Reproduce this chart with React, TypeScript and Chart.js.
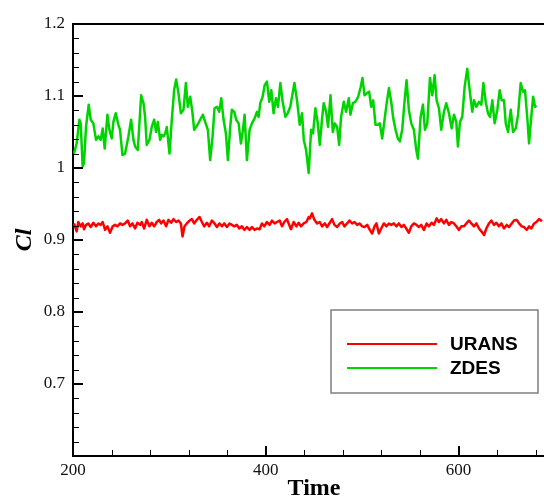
import React, { useEffect, useRef } from "react";
import { Chart, registerables } from "chart.js";

Chart.register(...registerables);

// ---------- data ----------
const ZDES_TIME = [
  201.0, 203.8, 206.6, 208.0, 210.0, 211.4, 213.5, 216.3, 218.4, 221.1, 223.9, 226.3, 228.7, 230.8, 232.9,
  235.7, 237.8, 240.2, 241.9, 244.3, 247.1, 248.8, 251.3, 254.0, 257.5, 260.3, 262.7, 264.4, 267.2, 270.7,
  273.1, 274.8, 276.5, 279.3, 281.7, 284.2, 286.2, 288.0, 290.4, 292.1, 293.9, 295.6, 297.3, 300.1, 302.5,
  304.9, 307.0, 309.4, 311.9, 314.6, 317.1, 319.1, 321.6, 324.0, 325.7, 329.2, 331.9, 334.7, 337.1, 339.9,
  342.3, 344.8, 346.8, 349.3, 351.7, 353.8, 356.2, 358.6, 360.7, 363.1, 364.8, 367.3, 369.3, 371.8, 374.2,
  376.3, 378.0, 380.4, 383.2, 385.6, 388.4, 390.8, 392.5, 394.3, 396.7, 398.8, 401.2, 403.6, 405.7, 408.1,
  410.5, 412.6, 415.1, 417.5, 420.3, 422.7, 425.4, 429.7, 432.4, 435.2, 437.6, 439.4, 441.8, 444.5, 447.0,
  449.0, 451.5, 453.9, 456.0, 458.4, 460.1, 462.6, 464.6, 467.1, 469.5, 471.6, 474.0, 476.1, 478.1, 480.9,
  483.3, 486.1, 487.8, 490.3, 493.0, 495.8, 498.2, 500.3, 502.4, 505.1, 507.2, 509.3, 511.4, 513.8, 516.2,
  518.3, 520.7, 523.2, 525.2, 527.7, 530.1, 532.2, 534.6, 537.0, 539.1, 541.5, 543.9, 546.0, 548.4, 550.9,
  553.6, 556.1, 557.8, 560.6, 563.0, 565.1, 567.5, 570.3, 572.7, 575.1, 577.2, 579.6, 582.0, 584.8, 587.2,
  590.0, 592.8, 595.2, 597.6, 599.3, 601.4, 603.8, 606.3, 609.0, 611.5, 614.2, 616.0, 618.4, 621.2, 623.6,
  625.7, 628.1, 630.5, 632.6, 635.0, 637.4, 640.2, 642.6, 644.7, 647.1, 648.9, 651.3, 654.1, 656.5, 659.3,
  661.7, 664.4, 666.9, 668.9, 671.4, 673.1, 674.8, 677.3, 679.3, 680.7,
];
const ZDES_CL = [
  1.020, 1.034, 1.067, 1.062, 1.002, 1.007, 1.057, 1.088, 1.067, 1.062, 1.039, 1.044, 1.039, 1.055, 1.027,
  1.074, 1.053, 1.041, 1.064, 1.076, 1.060, 1.053, 1.018, 1.020, 1.044, 1.067, 1.039, 1.030, 1.025, 1.101,
  1.090, 1.071, 1.032, 1.039, 1.057, 1.067, 1.050, 1.064, 1.039, 1.046, 1.044, 1.048, 1.057, 1.020, 1.067,
  1.108, 1.123, 1.104, 1.076, 1.081, 1.118, 1.085, 1.099, 1.076, 1.053, 1.060, 1.067, 1.074, 1.064, 1.053,
  1.011, 1.044, 1.083, 1.085, 1.078, 1.097, 1.067, 1.048, 1.011, 1.057, 1.081, 1.078, 1.067, 1.062, 1.034,
  1.053, 1.074, 1.011, 1.053, 1.062, 1.069, 1.078, 1.071, 1.090, 1.099, 1.115, 1.120, 1.092, 1.108, 1.076,
  1.097, 1.085, 1.118, 1.092, 1.071, 1.076, 1.085, 1.118, 1.094, 1.060, 1.076, 1.039, 1.025, 0.993, 1.053,
  1.048, 1.083, 1.062, 1.032, 1.069, 1.090, 1.078, 1.057, 1.101, 1.050, 1.062, 1.057, 1.032, 1.071, 1.092,
  1.078, 1.097, 1.074, 1.090, 1.092, 1.099, 1.111, 1.125, 1.101, 1.104, 1.106, 1.085, 1.094, 1.060, 1.060,
  1.062, 1.041, 1.067, 1.088, 1.111, 1.092, 1.069, 1.053, 1.041, 1.037, 1.053, 1.092, 1.122, 1.081, 1.062,
  1.053, 1.025, 1.013, 1.071, 1.088, 1.053, 1.062, 1.125, 1.101, 1.129, 1.094, 1.083, 1.053, 1.078, 1.090,
  1.076, 1.055, 1.074, 1.064, 1.030, 1.064, 1.071, 1.113, 1.138, 1.108, 1.078, 1.094, 1.085, 1.092, 1.088,
  1.118, 1.092, 1.076, 1.071, 1.094, 1.062, 1.081, 1.108, 1.094, 1.094, 1.062, 1.050, 1.081, 1.050, 1.055,
  1.074, 1.118, 1.106, 1.108, 1.067, 1.034, 1.062, 1.099, 1.085, 1.087,
];

const URANS_TIME = [
  201.0, 203.8, 205.5, 208.0, 210.0, 211.4, 213.5, 215.9, 218.4, 221.1, 223.9, 226.3, 228.7, 230.8, 233.3,
  235.7, 238.4, 241.2, 243.6, 246.1, 248.8, 251.3, 254.0, 256.8, 259.2, 261.6, 264.4, 266.8, 269.6, 271.3,
  273.8, 276.5, 279.3, 281.7, 284.2, 286.9, 289.3, 291.4, 293.9, 296.6, 299.0, 301.8, 304.2, 307.0, 309.4,
  311.9, 313.6, 315.7, 318.1, 320.9, 323.3, 325.7, 328.5, 331.3, 333.7, 336.1, 338.9, 341.3, 344.1, 346.8,
  349.3, 352.0, 354.5, 356.9, 359.7, 362.4, 364.8, 367.3, 370.0, 372.5, 375.2, 377.7, 380.4, 383.2, 385.6,
  388.4, 390.8, 393.6, 396.0, 398.4, 401.2, 404.0, 406.4, 409.2, 411.6, 414.4, 416.8, 419.2, 422.0, 423.7,
  426.1, 428.9, 431.7, 434.1, 436.5, 439.3, 442.1, 444.5, 445.6, 448.0, 450.4, 453.2, 456.0, 458.4, 461.2,
  463.6, 466.4, 468.8, 471.2, 474.0, 476.8, 479.2, 481.6, 484.4, 486.8, 489.6, 492.0, 494.8, 497.2, 500.0,
  502.4, 505.2, 507.9, 510.3, 512.8, 514.8, 517.3, 519.7, 522.5, 525.2, 527.7, 530.1, 532.9, 535.6, 538.0,
  540.8, 543.2, 545.7, 548.4, 550.9, 553.6, 556.4, 558.8, 561.2, 564.0, 566.8, 569.2, 572.0, 574.4, 577.2,
  579.6, 582.0, 584.8, 587.2, 590.0, 592.4, 595.2, 597.6, 600.4, 602.8, 605.6, 608.0, 610.8, 613.2, 616.0,
  618.4, 621.2, 623.6, 626.4, 628.8, 631.5, 634.0, 636.7, 639.2, 641.9, 644.4, 647.1, 649.9, 652.3, 655.1,
  657.5, 660.3, 662.7, 665.5, 667.9, 670.7, 673.1, 675.5, 678.3, 680.7, 683.5, 686.5,
];
const URANS_CL = [
  0.923, 0.912, 0.925, 0.919, 0.923, 0.915, 0.921, 0.923, 0.918, 0.924, 0.919, 0.923, 0.921, 0.925, 0.914,
  0.919, 0.910, 0.919, 0.921, 0.919, 0.923, 0.921, 0.923, 0.927, 0.919, 0.923, 0.916, 0.924, 0.921, 0.925,
  0.916, 0.928, 0.919, 0.924, 0.919, 0.925, 0.928, 0.923, 0.927, 0.919, 0.928, 0.924, 0.929, 0.925, 0.927,
  0.923, 0.905, 0.919, 0.923, 0.927, 0.929, 0.923, 0.928, 0.932, 0.925, 0.919, 0.924, 0.919, 0.927, 0.923,
  0.918, 0.923, 0.919, 0.923, 0.918, 0.923, 0.921, 0.919, 0.921, 0.916, 0.919, 0.914, 0.918, 0.914, 0.918,
  0.914, 0.916, 0.915, 0.923, 0.919, 0.925, 0.921, 0.927, 0.923, 0.925, 0.927, 0.919, 0.925, 0.929, 0.923,
  0.915, 0.925, 0.919, 0.924, 0.919, 0.923, 0.925, 0.932, 0.930, 0.937, 0.928, 0.923, 0.925, 0.919, 0.923,
  0.918, 0.924, 0.929, 0.921, 0.918, 0.923, 0.925, 0.919, 0.923, 0.927, 0.923, 0.925, 0.921, 0.923, 0.919,
  0.918, 0.921, 0.914, 0.909, 0.919, 0.923, 0.909, 0.916, 0.923, 0.919, 0.923, 0.921, 0.923, 0.919, 0.923,
  0.918, 0.921, 0.916, 0.910, 0.919, 0.923, 0.921, 0.918, 0.921, 0.914, 0.923, 0.919, 0.924, 0.921, 0.930,
  0.925, 0.929, 0.923, 0.928, 0.921, 0.925, 0.923, 0.919, 0.914, 0.919, 0.919, 0.923, 0.927, 0.923, 0.919,
  0.923, 0.916, 0.912, 0.907, 0.916, 0.923, 0.927, 0.921, 0.924, 0.919, 0.923, 0.916, 0.921, 0.918, 0.923,
  0.927, 0.928, 0.923, 0.919, 0.918, 0.914, 0.919, 0.916, 0.923, 0.925, 0.929, 0.926,
];

const SERIES_LABELS = ["URANS", "ZDES"];
const SERIES_COLORS = ["#ff0000", "#00d400"];

const X_MIN = 200;
const X_MAX = 700;
const Y_MIN = 0.6;
const Y_MAX = 1.2;
const X_MAJOR_TICKS = [200, 400, 600];
const X_MINOR_STEP = 40;
const Y_MAJOR_TICKS = [0.6, 0.7, 0.8, 0.9, 1.0, 1.1, 1.2];
const Y_LABELED_TICKS = [0.7, 0.8, 0.9, 1.0, 1.1, 1.2];
const Y_MINOR_STEP = 0.02;

const X_TITLE = "Time";
const Y_TITLE = "Cl";

const toPoints = (xs: number[], ys: number[]) => xs.map((x, i) => ({ x, y: ys[i] }));

const decorPlugin = {
  id: "decor",
  afterDraw(chart: any) {
    const { ctx, chartArea: a, scales } = chart;
    const x = scales.x;
    const y = scales.y;
    ctx.save();
    ctx.strokeStyle = "#000";
    // top and right frame
    ctx.lineWidth = 2;
    ctx.beginPath();
    ctx.moveTo(a.left - 1, a.top);
    ctx.lineTo(a.right, a.top);
    ctx.lineTo(a.right, a.bottom);
    ctx.stroke();

    const seg = (x1: number, y1: number, x2: number, y2: number, w: number) => {
      ctx.lineWidth = w;
      ctx.beginPath();
      ctx.moveTo(x1, y1);
      ctx.lineTo(x2, y2);
      ctx.stroke();
    };
    // y ticks (inward)
    for (const v of Y_MAJOR_TICKS) {
      const py = Math.round(y.getPixelForValue(v));
      seg(a.left, py, a.left + 10, py, 2);
    }
    for (let v = Y_MIN; v <= Y_MAX + 1e-9; v += Y_MINOR_STEP) {
      const isMajor = Y_MAJOR_TICKS.some((m) => Math.abs(m - v) < 1e-6);
      if (isMajor) continue;
      const py = Math.round(y.getPixelForValue(v)) + 0.5;
      seg(a.left, py, a.left + 6, py, 1);
    }
    // x ticks (inward)
    for (const v of X_MAJOR_TICKS) {
      const px = Math.round(x.getPixelForValue(v));
      seg(px, a.bottom, px, a.bottom - 10, 2);
    }
    for (let v = X_MIN; v <= X_MAX + 1e-9; v += X_MINOR_STEP) {
      if (X_MAJOR_TICKS.includes(v)) continue;
      const px = Math.round(x.getPixelForValue(v)) + 0.5;
      seg(px, a.bottom, px, a.bottom - 6, 1);
    }

    // legend box
    const bx = 331, by = 310, bw = 207, bh = 83;
    ctx.fillStyle = "#fff";
    ctx.fillRect(bx, by, bw, bh);
    ctx.strokeStyle = "#7f7f7f";
    ctx.lineWidth = 1.5;
    ctx.strokeRect(bx, by, bw, bh);
    ctx.font = 'bold 19px "Liberation Sans", Arial, sans-serif';
    ctx.textBaseline = "middle";
    ctx.textAlign = "left";
    chart.data.datasets.forEach((ds: any, i: number) => {
      const ly = 344 + i * 24;
      ctx.strokeStyle = ds.borderColor;
      seg(347, ly, 437, ly, 2);
      ctx.fillStyle = "#000";
      ctx.fillText(ds.label, 450, ly + 1);
    });
    ctx.restore();
  },
};

export default function App() {
  const ref = useRef<HTMLCanvasElement>(null);

  useEffect(() => {
    if (!ref.current) return;
    const chart = new Chart(ref.current, {
      type: "line",
      data: {
        datasets: [
          {
            label: SERIES_LABELS[0],
            data: toPoints(URANS_TIME, URANS_CL),
            borderColor: SERIES_COLORS[0],
            backgroundColor: SERIES_COLORS[0],
            borderWidth: 2.5,
            borderJoinStyle: "round",
            pointRadius: 0,
            tension: 0,
          },
          {
            label: SERIES_LABELS[1],
            data: toPoints(ZDES_TIME, ZDES_CL),
            borderColor: SERIES_COLORS[1],
            backgroundColor: SERIES_COLORS[1],
            borderWidth: 2.5,
            borderJoinStyle: "round",
            pointRadius: 0,
            tension: 0,
          },
        ],
      },
      options: {
        responsive: false,
        animation: false,
        devicePixelRatio: 1,
        layout: { padding: { top: 24, right: 1, left: 0, bottom: 0 } },
        plugins: { legend: { display: false }, tooltip: { enabled: false } },
        scales: {
          x: {
            type: "linear",
            min: X_MIN,
            max: X_MAX,
            grid: { display: false, drawTicks: false },
            border: { display: true, color: "#000", width: 2 },
            afterBuildTicks: (s: any) => {
              s.ticks = X_MAJOR_TICKS.map((v) => ({ value: v }));
            },
            ticks: {
              color: "#111",
              font: { family: '"Liberation Serif", serif', size: 17 },
              padding: 4,
              maxRotation: 0,
              autoSkip: false,
              callback: (v: any) => String(v),
            },
            title: {
              display: true,
              text: X_TITLE,
              color: "#000",
              font: { family: '"Liberation Serif", serif', size: 24, weight: "bold", lineHeight: 1 },
              padding: { top: 0, bottom: -2 },
            },
            afterFit: (s: any) => {
              s.height = 43;
            },
          },
          y: {
            type: "linear",
            min: Y_MIN,
            max: Y_MAX,
            grid: { display: false, drawTicks: false },
            border: { display: true, color: "#000", width: 2 },
            afterBuildTicks: (s: any) => {
              s.ticks = Y_LABELED_TICKS.map((v) => ({ value: v }));
            },
            ticks: {
              color: "#111",
              font: { family: '"Liberation Serif", serif', size: 17 },
              padding: 8,
              autoSkip: false,
              callback: (v: any) => String(Number(Number(v).toFixed(2))),
            },
            title: {
              display: true,
              text: Y_TITLE,
              color: "#000",
              font: { family: '"Liberation Serif", serif', size: 24, weight: "bold", style: "italic", lineHeight: 1 },
              padding: { top: 13, bottom: 0 },
            },
            afterFit: (s: any) => {
              s.width = 73;
            },
          },
        },
      },
      plugins: [decorPlugin],
    });
    return () => chart.destroy();
  }, []);

  return (
    <div
      style={{
        position: "fixed",
        left: 0,
        top: 0,
        width: 544,
        height: 499,
        overflow: "hidden",
        background: "#fff",
      }}
    >
      <canvas ref={ref} width={556} height={499} style={{ display: "block", width: 556, height: 499 }} />
    </div>
  );
}
